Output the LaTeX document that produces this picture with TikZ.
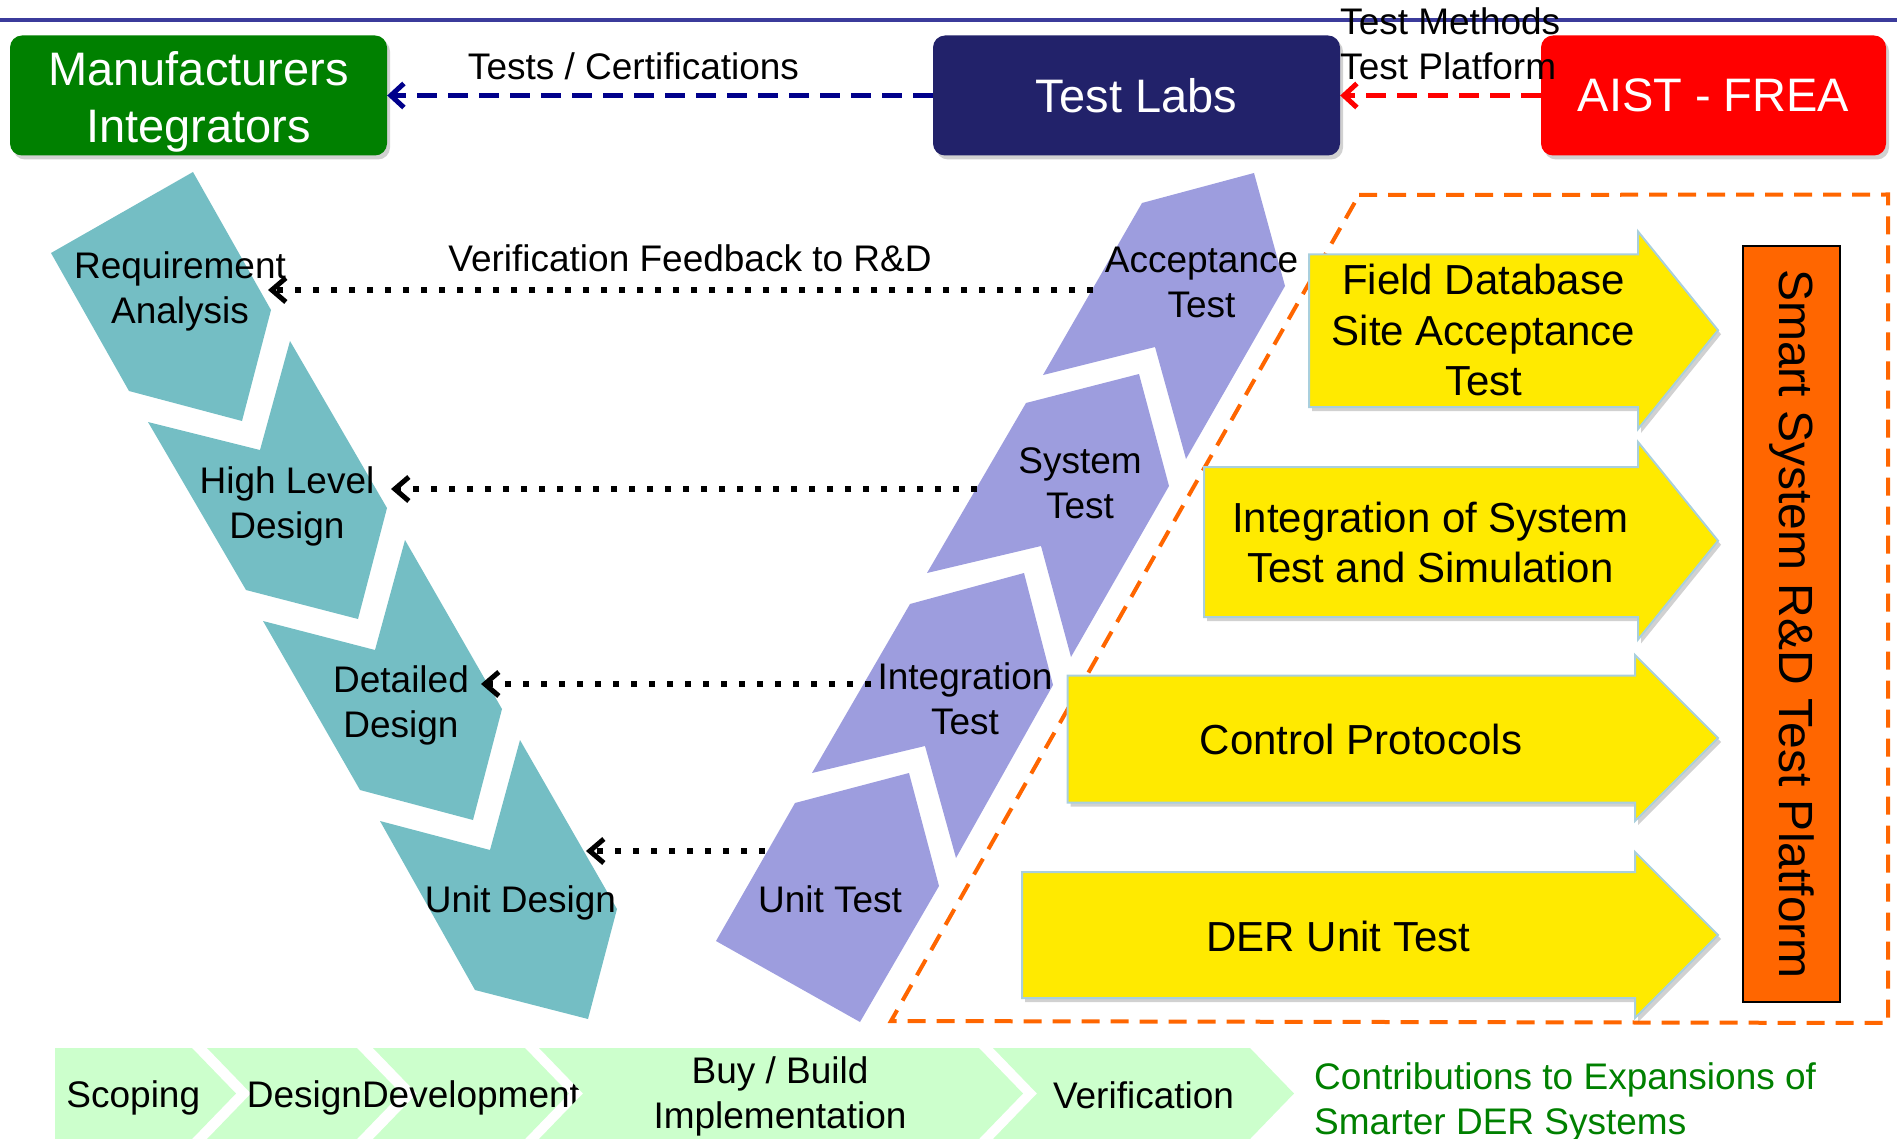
\documentclass[tikz,border=0pt]{standalone}
\usepackage{fontspec}
\setmainfont{Liberation Sans}
\usetikzlibrary{arrows.meta,shadows}

\definecolor{mfggreen}{HTML}{008000}
\definecolor{labnavy}{HTML}{22226A}
\definecolor{aistred}{HTML}{FF0000}
\definecolor{vteal}{HTML}{74BEC4}
\definecolor{vpurple}{HTML}{9D9DDE}
\definecolor{boxyellow}{HTML}{FFEA00}
\definecolor{edgeblue}{HTML}{A9CFDD}
\definecolor{platorange}{HTML}{FF6600}
\definecolor{phasegreen}{HTML}{CCFFCC}
\definecolor{rulenavy}{HTML}{3B3B9B}
\definecolor{linknavy}{HTML}{00008B}

\tikzset{
  softshadow/.style={drop shadow={shadow xshift=3pt, shadow yshift=-4pt, opacity=0.3, fill=black!60}},
  titlebox/.style={rounded corners=12pt, minimum height=120pt, inner sep=0pt,
    text=white, font=\fontsize{47}{57}\selectfont, softshadow},
  titletext/.style={text=white, font=\fontsize{47}{57}\selectfont, inner sep=0pt, align=center},
  lbl/.style={font=\fontsize{37}{45}\selectfont, inner sep=0pt, align=center},
  lblone/.style={font=\fontsize{37}{45}\selectfont, inner sep=0pt, anchor=base},
  ylbl/.style={font=\fontsize{42}{50.5}\selectfont, inner sep=0pt, align=center},
  ylblone/.style={font=\fontsize{42}{50.5}\selectfont, inner sep=0pt, anchor=base},
  link/.style={line width=5pt, dash pattern=on 20pt off 11pt,
    -{Straight Barb[length=13pt,width=24pt]}},
  feedback/.style={line width=6pt, dash pattern=on 6pt off 12pt,
    -{Straight Barb[length=14pt,width=24pt,line width=5pt]}},
  tealstep/.style={fill=vteal},
  purplestep/.style={fill=vpurple},
  yellowarrow/.style={fill=boxyellow, draw=edgeblue, line width=2pt, softshadow},
  phase/.style={fill=phasegreen},
}

\begin{document}
\begin{tikzpicture}[x=1pt,y=-1pt]
\useasboundingbox (0,0) rectangle (1897,1139);

% header rule
\draw[rulenavy, line width=4pt] (0,20) -- (1897,20);

% organisations
\node[titlebox, fill=mfggreen, minimum width=377pt] (mfg) at (198.5,95.5) {};
\node[titletext] (mfgtxt) at (198.5,101.5) {Manufacturers\\Integrators};
\node[titlebox, fill=labnavy, minimum width=407pt] (labs) at (1136.5,95.5) {Test Labs};
\node[titlebox, fill=aistred, minimum width=345pt] (aist) at (1713.5,95.5) {AIST - FREA};

\draw[link, linknavy] (labs.west) -- (mfg.east);
\draw[link, red] (aist.west) -- (labs.east);
\node[lblone] (tc) at (633.5,80) {Tests / Certifications};
\node[lbl, align=left, anchor=west] (tm) at (1340,44.25) {Test Methods\\Test Platform};

% design side of the V
\fill[tealstep] (51,253) -- (193,172) -- (271,310) -- (242,421) -- (129,391) -- cycle;
\fill[tealstep] (290,341) -- (387,508) -- (358,619) -- (246,590) -- (148,422) -- (260,450) -- cycle;
\fill[tealstep] (405,540) -- (502,709) -- (473,820) -- (360,790) -- (263,621) -- (375,650) -- cycle;
\fill[tealstep] (520,740) -- (617,909) -- (588,1019) -- (475,990) -- (380,821) -- (490,850) -- cycle;

% test side of the V
\fill[purplestep] (1043,375) -- (1142,203) -- (1254,173) -- (1285,286) -- (1186,459) -- (1155,347) -- cycle;
\fill[purplestep] (927,573) -- (1026,403) -- (1139,374) -- (1169,486) -- (1071,657) -- (1041,546) -- cycle;
\fill[purplestep] (812,773) -- (910,604) -- (1024,573) -- (1053,685) -- (956,858) -- (925,746) -- cycle;
\fill[purplestep] (716,941) -- (795,803) -- (909,773) -- (939,886) -- (860,1022) -- cycle;

\node[lbl] (req) at (180,291.6) {Requirement\\Analysis};
\node[lbl] (hld) at (287,506.4) {High Level\\Design};
\node[lbl] (dd) at (401,705.3) {Detailed\\Design};
\node[lblone] (ud) at (520.5,912) {Unit Design};
\node[lbl] (acc) at (1201.5,282.5) {Acceptance\\Test};
\node[lbl] (sys) at (1080,483.5) {System\\Test};
\node[lbl] (integ) at (965,698.4) {Integration\\Test};
\node[lblone] (ut) at (830,912.5) {Unit Test};

% verification feedback
\coordinate (accfb) at (1093,290);
\coordinate (reqfb) at (268,290);
\coordinate (sysfb) at (977,489);
\coordinate (hldfb) at (391,489);
\coordinate (intfb) at (871,684);
\coordinate (ddfb) at (481,684);
\coordinate (utfb) at (765,851);
\coordinate (udfb) at (586,851);
\draw[feedback] (accfb) -- (reqfb);
\draw[feedback] (sysfb) -- (hldfb);
\draw[feedback] (intfb) -- (ddfb);
\draw[feedback] (utfb) -- (udfb);
\node[lblone] (vf) at (690,272) {Verification Feedback to R\&D};

% test platform region
\draw[platorange, line width=4pt, dash pattern=on 18pt off 11pt]
  (1359,195) -- (1888,194.5) -- (1888,1023) -- (891,1021) -- cycle;

\fill[yellowarrow] (1309,254.5) -- (1638,254.5) -- (1638,231.5) -- (1718,330.25)
  -- (1638,429) -- (1638,407) -- (1309,407) -- cycle;
\fill[yellowarrow] (1204,467) -- (1638,467) -- (1638,442) -- (1718,540.75)
  -- (1638,639.5) -- (1638,617) -- (1204,617) -- cycle;
\fill[yellowarrow] (1067.5,675.5) -- (1635,675.5) -- (1635,655) -- (1718,738)
  -- (1635,821) -- (1635,802.5) -- (1067.5,802.5) -- cycle;
\fill[yellowarrow] (1022,872) -- (1635,872) -- (1635,852) -- (1718,935)
  -- (1635,1018) -- (1635,998) -- (1022,998) -- cycle;

\node[ylbl] (fdb) at (1483.5,330.1) {Field Database\\Site Acceptance\\Test};
\node[ylbl] (ists) at (1430.5,542.5) {Integration of System\\Test and Simulation};
\node[ylblone] (cp) at (1361,754) {Control Protocols};
\node[ylblone] (der) at (1338.5,951) {DER Unit Test};

\node[rotate=-90, minimum width=756pt, minimum height=97pt, inner sep=0pt,
  fill=platorange, draw=black, line width=2pt, font=\fontsize{48}{57}\selectfont]
  (plat) at (1791.5,624) {Smart System R\&D Test Platform};

% project phases
\fill[phase] (55,1048) -- (192,1048) -- (236,1093.5) -- (192,1139) -- (55,1139) -- cycle;
\node[lblone] (scp) at (133.3,1107) {Scoping};
\fill[phase] (207,1048) -- (357,1048) -- (401,1093.5) -- (357,1139) -- (207,1139) -- (251,1093.5) -- cycle;
\node[lblone] (dsg) at (304.5,1107) {Design};
\fill[phase] (373,1048) -- (525,1048) -- (569,1093.5) -- (525,1139) -- (373,1139) -- (417,1093.5) -- cycle;
\node[lblone] (dev) at (471,1107) {Development};
\fill[phase] (539,1048) -- (979,1048) -- (1023,1093.5) -- (979,1139) -- (539,1139) -- (583,1093.5) -- cycle;
\node[lbl] (bb) at (780,1096.4) {Buy / Build\\Implementation};
\fill[phase] (993,1048) -- (1250,1048) -- (1294,1093.5) -- (1250,1139) -- (993,1139) -- (1037,1093.5) -- cycle;
\node[lblone] (ver) at (1143.5,1108) {Verification};
\node[lbl, align=left, anchor=west, text=mfggreen] (contrib) at (1314,1102.5)
  {Contributions to Expansions of\\Smarter DER Systems};

\end{tikzpicture}
\end{document}
